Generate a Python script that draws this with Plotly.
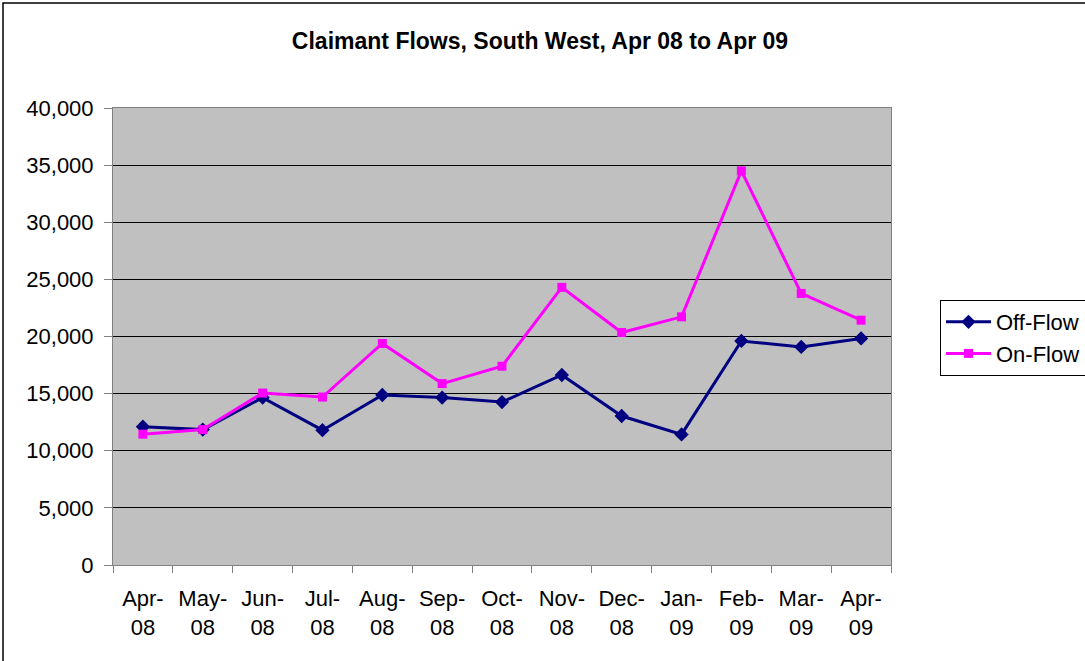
import plotly.graph_objects as go

months = ["Apr-<br>08", "May-<br>08", "Jun-<br>08", "Jul-<br>08", "Aug-<br>08", "Sep-<br>08",
          "Oct-<br>08", "Nov-<br>08", "Dec-<br>08", "Jan-<br>09", "Feb-<br>09", "Mar-<br>09", "Apr-<br>09"]
off_flow = [12100, 11850, 14650, 11800, 14880, 14650, 14260, 16630, 13040, 11430, 19610, 19090, 19830]
on_flow = [11450, 11850, 15050, 14700, 19390, 15880, 17400, 24300, 20350, 21720, 34500, 23770, 21430]

W, H = 1085, 661
L, R, T, B = 113, 194, 108, 96
pw, ph = W - L - R, H - T - B

fig = go.Figure()
fig.add_trace(go.Scatter(x=months, y=off_flow, name="Off-Flow", mode="lines+markers",
                         line=dict(color="#000080", width=3),
                         marker=dict(symbol="diamond", size=11, color="#000080")))
fig.add_trace(go.Scatter(x=months, y=on_flow, name="On-Flow", mode="lines+markers",
                         line=dict(color="#FF00FF", width=3),
                         marker=dict(symbol="square", size=9, color="#FF00FF")))

fig.update_layout(
    width=W, height=H,
    margin=dict(l=L, r=R, t=T, b=B, autoexpand=False),
    paper_bgcolor="white", plot_bgcolor="#C0C0C0",
    font=dict(family="Liberation Sans, Arial", size=22, color="black"),
    title=dict(text="<b>Claimant Flows, South West, Apr 08 to Apr 09</b>",
               x=540 / W, xanchor="center", y=1 - 41 / H, yanchor="middle",
               yref="container", font=dict(size=23)),
    showlegend=True,
    legend=dict(x=(940 - L) / pw, y=(565 - 300) / ph, xanchor="left", yanchor="top",
                bgcolor="white", bordercolor="black", borderwidth=1,
                font=dict(size=22), tracegroupgap=0, itemwidth=45),
    xaxis=dict(type="category", range=[-0.5, 12.5], showgrid=False,
               ticks="outside", tickson="boundaries", ticklen=7, tickcolor="#808080",
               showline=True, linecolor="#808080", linewidth=1, mirror=True,
               tickfont=dict(size=22), ticklabelstandoff=14),
    yaxis=dict(range=[0, 40000], dtick=5000, tickformat=",", showgrid=True,
               gridcolor="#000000", gridwidth=1, ticks="outside", ticklen=8,
               tickcolor="#808080", showline=True, linecolor="#808080", linewidth=1,
               mirror=True, zeroline=False, tickfont=dict(size=22), ticklabelstandoff=6),
)

fig.add_shape(type="rect", xref="paper", yref="paper",
              x0=(3 - L) / pw, x1=(1095 - L) / pw,
              y0=(565 - 670) / ph, y1=(565 - 3) / ph,
              line=dict(color="black", width=1.5), fillcolor="rgba(0,0,0,0)", layer="below")

fig.write_html("out.html", config={"displayModeBar": False},
               post_script="document.body.style.margin='0px';")
